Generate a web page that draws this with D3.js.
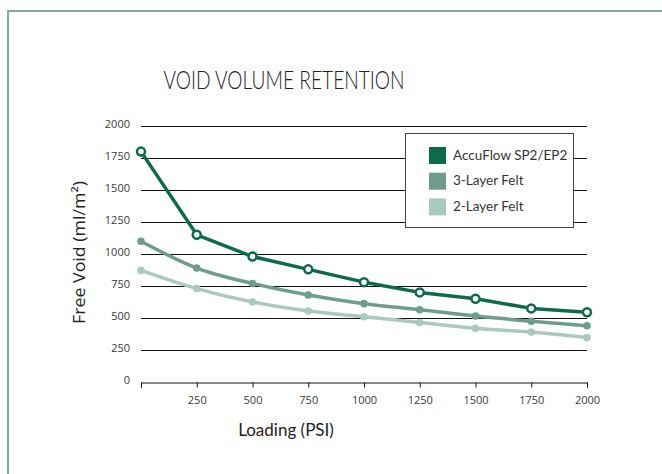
<!DOCTYPE html>
<html>
<head>
<meta charset="utf-8">
<script src="https://cdn.jsdelivr.net/npm/d3@7"></script>
<style>
  html, body { margin: 0; padding: 0; background: #fff; }
  svg { display: block; font-family: "Segoe UI", Lato, "Noto Sans", sans-serif; }
</style>
</head>
<body>
<div id="chartContainer"></div>
<script>
// Chart data
var loading = [0, 250, 500, 750, 1000, 1250, 1500, 1750, 2000];
var accuflow = [1800, 1150, 980, 880, 780, 700, 650, 575, 545];
var felt3 = [1100, 890, 770, 680, 612, 565, 515, 475, 440];
var felt2 = [872, 730, 625, 555, 510, 465, 420, 390, 347];
var seriesNames = ["AccuFlow SP2/EP2", "3-Layer Felt", "2-Layer Felt"];
var xTicks = [250, 500, 750, 1000, 1250, 1500, 1750, 2000];
var yTicks = [0, 250, 500, 750, 1000, 1250, 1500, 1750, 2000];

function init() {
    var w = 662;
    var h = 474;
    var tickFont = "'Open Sans', 'Noto Sans', sans-serif";

    var svg = d3.select("#chartContainer")
                .append("svg")
                .attr("width", w)
                .attr("height", h);

    // outer frame (top + left edge)
    svg.append("path")
       .attr("d", "M8," + h + "V11H" + w)
       .attr("fill", "none")
       .attr("stroke", "#82ac9a")
       .attr("stroke-width", 2);

    var x = d3.scaleLinear().domain([0, 2000]).range([141, 587]);
    var y = d3.scaleLinear().domain([0, 2000]).range([382, 126]);

    var colors = ["#0d6b4b", "#6f9d8b", "#a9cabc"];

    // gridlines
    svg.append("g")
       .selectAll("line")
       .data(yTicks.filter(d => d > 0))
       .enter()
       .append("line")
       .attr("x1", x(0))
       .attr("x2", x(2000))
       .attr("y1", d => Math.round(y(d)) + 0.5)
       .attr("y2", d => Math.round(y(d)) + 0.5)
       .attr("stroke", "#111")
       .attr("stroke-width", 1);

    // y tick labels
    svg.append("g")
       .selectAll("text")
       .data(yTicks)
       .enter()
       .append("text")
       .attr("x", 130)
       .attr("y", d => y(d) - 2)
       .attr("dy", "0.35em")
       .attr("text-anchor", "end")
       .attr("font-family", tickFont)
       .attr("font-size", "11px")
       .attr("fill", "#3a3a3a")
       .text(d => d);

    // x axis
    var xAxis = d3.axisBottom(x)
                  .tickValues([0].concat(xTicks))
                  .tickSize(5)
                  .tickFormat(d => d === 0 ? "" : d);
    var gx = svg.append("g")
                .attr("transform", "translate(0," + (Math.round(y(0)) + 0.5) + ")")
                .call(xAxis);
    gx.select(".domain").attr("stroke", "#111");
    gx.selectAll(".tick line").attr("stroke", "#111");
    gx.selectAll(".tick text")
      .attr("y", 14)
      .attr("font-size", "11px")
      .attr("font-family", tickFont)
      .attr("fill", "#3a3a3a");

    // title and axis labels
    svg.append("text")
       .attr("x", 284)
       .attr("y", 89)
       .attr("text-anchor", "middle")
       .attr("font-size", "25px")
       .attr("font-weight", 300)
       .attr("textLength", 241)
       .attr("lengthAdjust", "spacingAndGlyphs")
       .attr("fill", "#222")
       .text("VOID VOLUME RETENTION");

    svg.append("text")
       .attr("x", 286)
       .attr("y", 436)
       .attr("text-anchor", "middle")
       .attr("font-size", "17px")
       .attr("fill", "#222")
       .text("Loading (PSI)");

    svg.append("text")
       .attr("transform", "translate(85,252.5) rotate(-90)")
       .attr("text-anchor", "middle")
       .attr("font-family", tickFont)
       .attr("font-size", "16.5px")
       .attr("textLength", 143)
       .attr("lengthAdjust", "spacingAndGlyphs")
       .attr("fill", "#222")
       .text("Free Void (ml/m²)");

    // lines
    var data = [accuflow, felt3, felt2];
    var lineLinear = d3.line()
                       .x((d, i) => x(loading[i]))
                       .y(d => y(d));
    var lineSmooth = d3.line()
                       .x((d, i) => x(loading[i]))
                       .y(d => y(d))
                       .curve(d3.curveMonotoneX);

    // draw felts first, AccuFlow on top
    [2, 1, 0].forEach(function(k) {
        var g = svg.append("g");
        g.append("path")
         .datum(data[k])
         .attr("d", k === 0 ? lineLinear : lineSmooth)
         .attr("fill", "none")
         .attr("stroke", colors[k])
         .attr("stroke-width", 3.5)
         .attr("stroke-linejoin", "round");
        g.selectAll("circle")
         .data(data[k])
         .enter()
         .append("circle")
         .attr("cx", (d, i) => x(loading[i]))
         .attr("cy", d => y(d))
         .attr("r", k === 0 ? 4 : 3.8)
         .attr("fill", k === 0 ? "#fff" : colors[k])
         .attr("stroke", colors[k])
         .attr("stroke-width", k === 0 ? 2.5 : 0);
    });

    // legend
    var legend = svg.append("g");
    legend.append("rect")
          .attr("x", 405.5)
          .attr("y", 133.5)
          .attr("width", 168)
          .attr("height", 94)
          .attr("fill", "#fff")
          .attr("stroke", "#444")
          .attr("stroke-width", 1);
    seriesNames.forEach(function(name, i) {
        legend.append("rect")
              .attr("x", 429)
              .attr("y", 147 + i * 25.7)
              .attr("width", 17)
              .attr("height", 17)
              .attr("fill", colors[i]);
        legend.append("text")
              .attr("x", 453)
              .attr("y", 159.5 + i * 25.7)
              .attr("font-size", "13.5px")
              .attr("fill", "#333")
              .text(name);
    });
}

window.onload = init;
</script>
</body>
</html>
